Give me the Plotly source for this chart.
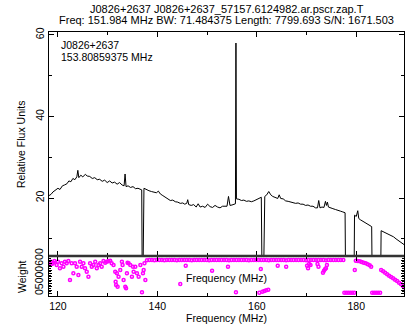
import numpy as np
import plotly.graph_objects as go

# ---------------- data ----------------
flux_freq = [118.2, 118.6, 119.0, 119.5, 120.0, 120.4, 120.9, 121.3, 121.8, 122.2,
             122.6, 123.0, 123.4, 123.8, 124.0, 124.2, 124.6, 125.0, 125.5, 125.9,
             126.4, 126.9, 127.4, 127.9, 128.4, 128.9, 129.4, 129.9, 130.4, 130.9,
             131.4, 131.9, 132.4, 132.9, 133.3, 133.5, 133.7, 134.1, 134.6, 135.1,
             135.6, 136.1, 136.6, 136.85, 136.95, 137.1, 137.3, 137.8, 138.3, 138.8,
             139.3, 139.8, 140.2, 140.6, 141.1, 141.6, 142.1, 142.6, 143.1, 143.6,
             144.1, 144.6, 145.1, 145.5, 145.9, 146.1, 146.3, 146.8, 147.3, 147.8,
             148.2, 148.6, 149.1, 149.6, 150.1, 150.6, 151.1, 151.6, 152.1, 152.6,
             153.1, 153.6, 154.0, 154.3, 154.6, 155.0, 155.4, 155.7, 155.8, 155.9,
             156.4, 156.9, 157.4, 157.9, 158.4, 158.9, 159.4, 159.9, 160.4, 160.9,
             161.05, 161.35, 161.6, 162.0, 162.4, 162.8, 163.2, 163.7, 164.2, 164.5,
             164.8, 165.3, 165.8, 166.3, 166.8, 167.3, 167.8, 168.3, 168.8, 169.3,
             169.8, 170.3, 170.8, 171.3, 171.8, 172.2, 172.45, 172.7, 173.1, 173.5,
             173.8, 174.0, 174.2, 174.4, 174.8, 175.3, 175.8, 176.3, 176.8, 177.3,
             177.75, 177.85, 179.55, 179.65, 180.0, 180.3, 180.5, 180.8, 181.3, 181.8,
             182.3, 182.8, 183.1, 183.2, 184.9, 185.0, 185.5, 186.0, 186.5, 187.0,
             187.5, 188.0, 188.5, 189.0, 189.6]
flux_vals = [20.6, 20.9, 21.5, 21.9, 22.4, 22.1, 23.0, 23.2, 23.5, 24.2,
             24.0, 24.8, 24.5, 25.2, 26.8, 25.0, 25.6, 25.2, 25.8, 25.4,
             25.3, 24.8, 25.0, 24.5, 24.6, 24.1, 24.4, 23.8, 24.2, 23.7,
             23.9, 23.4, 23.8, 23.2, 23.0, 25.9, 22.8, 23.0, 22.6, 22.8,
             22.3, 22.4, 22.0, 22.0, 0.0, 0.0, 22.4, 22.0, 21.8, 21.6,
             21.5, 21.3, 21.7, 21.0, 20.6, 20.2, 19.8, 19.4, 19.5, 19.1,
             19.0, 18.7, 18.8, 18.5, 18.7, 19.6, 18.4, 18.2, 18.4, 17.8,
             18.6, 17.8, 18.0, 17.7, 18.5, 17.9, 17.7, 18.2, 17.8, 17.6,
             18.0, 18.1, 18.0, 20.4, 18.2, 18.3, 18.4, 18.6, 58.0, 19.8,
             19.7, 19.4, 19.5, 19.2, 19.3, 19.1, 19.3, 19.6, 19.8, 20.2,
             0.0, 0.0, 20.4, 20.8, 21.6, 20.8, 20.4, 20.2, 19.9, 20.8,
             19.9, 19.8, 19.3, 19.2, 19.0, 18.9, 18.7, 18.8, 18.5, 18.5,
             18.2, 18.3, 18.0, 18.0, 17.6, 17.6, 19.4, 17.6, 17.8, 17.7,
             19.2, 18.2, 19.0, 17.8, 17.7, 17.4, 17.2, 16.9, 16.8, 16.6,
             16.4, 0.0, 0.0, 15.8, 15.5, 16.9, 15.0, 14.7, 14.3, 13.9,
             13.5, 13.2, 13.0, 0.0, 0.0, 12.0, 11.7, 11.4, 11.0, 10.9,
             10.5, 10.0, 9.6, 9.1, 8.6]

# scattered weights (low-frequency part and outliers)
w_freq = [118.38, 118.6, 118.8, 119.05, 119.3, 119.74, 120.0, 120.4, 120.74, 121.1,
          121.41, 121.75, 122.1, 122.42, 122.76, 123.10, 123.43, 123.77, 124.11, 124.44,
          124.78, 125.12, 125.45, 125.79, 126.13, 126.46, 126.80, 127.14, 127.5, 127.81,
          128.15, 128.48, 128.8, 129.16, 129.5, 129.83, 130.17, 130.51, 130.8, 131.18,
          131.52, 131.6, 131.7, 131.85, 132.0, 132.19, 132.53, 132.86, 133.0, 133.20,
          133.54, 133.7, 133.87, 134.0, 134.21, 134.55, 134.88, 135.1, 135.22, 135.56,
          135.89, 136.23, 136.57, 136.90, 137.1, 137.24, 137.4, 137.58,
          144.6, 145.7, 151.0, 154.2, 155.8, 160.5, 160.8, 161.1, 161.5, 161.9,
          162.3, 164.2, 165.9, 170.1, 170.3, 170.5, 170.8, 172.2, 172.4, 173.3,
          173.5, 173.7, 173.9, 174.1,
          177.6, 178.0, 178.4, 178.8, 179.2, 179.6, 179.7,
          179.9, 180.3, 180.7, 181.1, 181.5, 181.9, 182.3, 182.7, 183.0,
          183.2, 183.6, 184.0, 184.4, 184.8,
          185.0, 185.4, 185.8, 186.2, 186.6, 187.0, 187.4, 187.8, 188.2, 188.6,
          189.0, 189.4, 189.6]
w_vals = [0.90, 0.95, 0.88, 0.92, 0.97, 0.85, 0.95, 0.75, 0.90, 0.80,
          0.95, 0.90, 0.97, 0.40, 0.90, 0.60, 0.90, 0.80, 0.55, 0.95,
          0.80, 0.90, 0.75, 0.65, 0.50, 0.90, 0.80, 0.85, 0.95, 0.75,
          0.85, 0.90, 0.80, 0.97, 0.92, 0.95, 0.97, 0.98, 0.90, 0.85,
          0.65, 0.35, 0.25, 0.60, 0.20, 0.50, 0.70, 0.95, 0.85, 0.40,
          0.20, 0.15, 0.60, 0.92, 0.90, 0.85, 0.50, 0.80, 0.65, 0.80,
          0.60, 0.50, 0.85, 0.03, 0.60, 0.70, 0.90, 0.40,
          0.28, 0.83, 0.68, 0.80, 0.03, 0.02, 0.73, 0.05, 0.07, 0.09,
          0.11, 0.83, 0.80, 0.83, 0.75, 0.88, 0.85, 0.88, 0.80, 0.62,
          0.68, 0.72, 0.75, 0.85,
          0.02, 0.02, 0.02, 0.02, 0.02, 0.02, 0.70,
          0.98, 0.97, 0.96, 0.94, 0.92, 0.90, 0.87, 0.84, 0.80,
          0.02, 0.02, 0.02, 0.02, 0.02,
          0.70, 0.66, 0.62, 0.57, 0.53, 0.49, 0.45, 0.41, 0.37, 0.32,
          0.27, 0.22, 0.18]

# continuous band of full-weight channels
band_freq = np.linspace(137.9, 177.4, 80)
band_w = [0.99, 1.00, 1.00, 0.99, 1.00, 1.00, 1.00, 0.99, 1.00, 1.00,
          1.00, 1.00, 0.99, 1.00, 1.00, 1.00, 1.00, 1.00, 0.99, 1.00,
          1.00, 1.00, 1.00, 1.00, 1.00, 0.99, 1.00, 1.00, 1.00, 1.00,
          1.00, 1.00, 1.00, 0.99, 1.00, 1.00, 1.00, 1.00, 1.00, 1.00,
          1.00, 0.99, 1.00, 1.00, 1.00, 1.00, 1.00, 1.00, 1.00, 0.99,
          1.00, 1.00, 1.00, 1.00, 1.00, 1.00, 0.99, 1.00, 1.00, 1.00,
          1.00, 1.00, 1.00, 1.00, 0.99, 1.00, 1.00, 1.00, 1.00, 1.00,
          1.00, 1.00, 0.99, 1.00, 1.00, 1.00, 1.00, 1.00, 1.00, 1.00]

x_ticks = [120, 140, 160, 180]
y_ticks = [20, 40, 60]

title1 = "J0826+2637 J0826+2637_57157.6124982.ar.pscr.zap.T"
title2 = "Freq: 151.984 MHz BW: 71.484375 Length: 7799.693 S/N: 1671.503"
label1 = "J0826+2637"
label2 = "153.80859375 MHz"

# ---------------- figure ----------------
FONT = "Liberation Sans, Arial, Helvetica, sans-serif"
fig = go.Figure()

fig.add_trace(go.Scatter(x=flux_freq, y=flux_vals, mode="lines",
                         line=dict(color="black", width=1), xaxis="x2", yaxis="y2",
                         showlegend=False, hoverinfo="skip"))

MARK = dict(symbol="circle-open", size=3, color="#ff00ff",
            line=dict(width=1.5, color="#ff00ff"))
fig.add_trace(go.Scatter(x=band_freq, y=band_w, mode="markers", marker=MARK,
                         xaxis="x", yaxis="y", showlegend=False, hoverinfo="skip"))
fig.add_trace(go.Scatter(x=w_freq, y=w_vals, mode="markers", marker=MARK,
                         xaxis="x", yaxis="y", showlegend=False, hoverinfo="skip"))

XR = [118.2, 189.6]
wdom = 40 / 264

common_x = dict(range=XR, showgrid=False, zeroline=False, showline=True, linecolor="black",
                linewidth=1, mirror="ticks", ticks="inside", ticklen=5, tickcolor="black",
                tickvals=x_ticks,
                minor=dict(ticks="inside", ticklen=3, dtick=10, tick0=120, tickcolor="black"))

fig.update_layout(
    width=406, height=327,
    margin=dict(l=49, r=2, t=32, b=31),
    paper_bgcolor="white", plot_bgcolor="white",
    font=dict(family=FONT, size=10.5, color="black"),
    xaxis=dict(**common_x, anchor="y", domain=[0, 1], showticklabels=True,
               tickfont=dict(size=10.5)),
    xaxis2=dict(**common_x, anchor="y2", domain=[0, 1], showticklabels=False, matches="x"),
    yaxis=dict(domain=[0, wdom], range=[-0.08, 1.12], showgrid=False, zeroline=False,
               showline=True, linecolor="black", linewidth=1, mirror="ticks",
               ticks="inside", ticklen=3, tickcolor="black", dtick=0.1, tick0=0,
               showticklabels=False,
               minor=dict(ticks="inside", ticklen=2, dtick=0.05, tickcolor="black")),
    yaxis2=dict(domain=[wdom, 1], range=[5.8, 60.7], showgrid=False, zeroline=False,
                showline=True, linecolor="black", linewidth=1, mirror="ticks",
                ticks="inside", ticklen=5, tickcolor="black", tickvals=y_ticks,
                tickangle=-90, tickfont=dict(size=10.5),
                minor=dict(ticks="inside", ticklen=3, dtick=10, tick0=0, tickcolor="black")),
)

# bold separator between panels
fig.add_shape(type="line", xref="paper", yref="paper", x0=0, x1=1, y0=wdom, y1=wdom,
              line=dict(color="#333333", width=2.5))


def py(ypix):
    return (296 - ypix) / 264


def px(xpix):
    return (xpix - 49) / 355


ann = [
    dict(text=title1, x=0.5, y=py(9), xanchor="center", yanchor="middle", size=11),
    dict(text=title2, x=0.5, y=py(20), xanchor="center", yanchor="middle", size=11),
    dict(text=label1, x=px(59), y=py(45), xanchor="left", yanchor="middle", size=10.5),
    dict(text=label2, x=px(59), y=py(57), xanchor="left", yanchor="middle", size=10.5),
    dict(text="Frequency (MHz)", x=px(226), y=py(278), xanchor="center", yanchor="middle", size=10.5),
    dict(text="Frequency (MHz)", x=px(226), y=py(318), xanchor="center", yanchor="middle", size=10.5),
    dict(text="Relative Flux Units", x=px(21), y=py(144), xanchor="center", yanchor="middle",
         textangle=-90, size=10.5),
    dict(text="Weight", x=px(22), y=py(277), xanchor="center", yanchor="middle",
         textangle=-90, size=10.5),
    dict(text="05000600", x=px(39), y=py(272), xanchor="center", yanchor="middle",
         textangle=-90, size=10.5),
]
for a in ann:
    s = a.pop("size")
    fig.add_annotation(xref="paper", yref="paper", showarrow=False,
                       font=dict(family=FONT, size=s, color="black"), **a)

fig.write_html("out.html")
